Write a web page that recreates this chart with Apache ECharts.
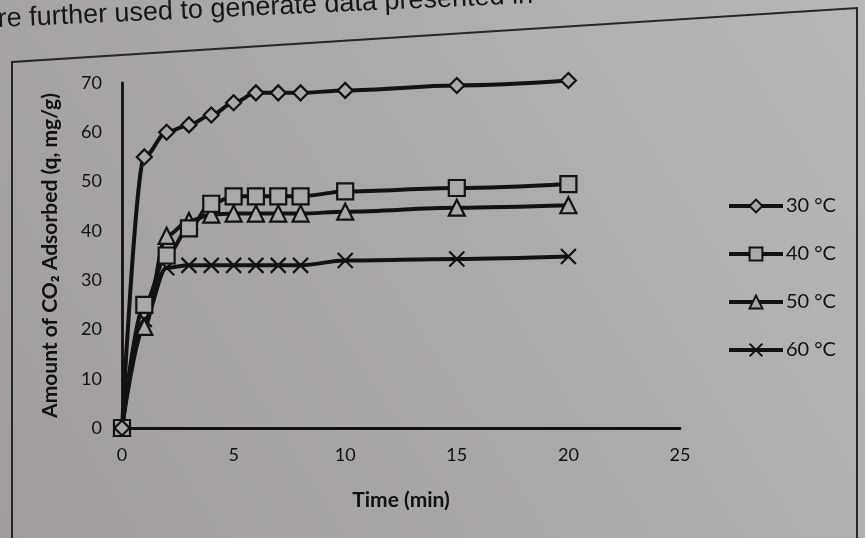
<!DOCTYPE html>
<html>
<head>
<meta charset="utf-8">
<script src="https://cdn.jsdelivr.net/npm/echarts@6/dist/echarts.min.js"></script>
<style>
html,body{margin:0;padding:0;}
#chart{width:865px;height:538px;}
</style>
</head>
<body>
<div id="chart"></div>
<script>
// ---- data ----
var times = [0, 1, 2, 3, 4, 5, 6, 7, 8, 10, 15, 20];
var seriesNames = ['30 °C', '40 °C', '50 °C', '60 °C'];
var q30 = [0, 55, 60, 61.5, 63.5, 66, 68, 68, 68, 68.5, 69.5, 70.5];
var q40 = [0, 25, 35, 40.5, 45.5, 47, 47, 47, 47, 48, 48.7, 49.5];
var q50 = [0, 20.5, 39, 42, 43.3, 43.5, 43.5, 43.5, 43.5, 43.9, 44.7, 45.2];
var q60 = [0, 22, 32.5, 33, 33, 33, 33, 33, 33, 34, 34.3, 34.8];
var xTicks = [0, 5, 10, 15, 20, 25];
var yTicks = [0, 10, 20, 30, 40, 50, 60, 70];
var xTitle = 'Time (min)';
var yTitle = 'Amount of CO\u2082 Adsorbed (q, mg/g)';
var pageText = 're further used to generate data presented in';

function pairs(ys) { return times.map(function (t, i) { return [t, ys[i]]; }); }

var ink = '#121212';
var paper = '#aba8a9';
var xSymbol = 'path://M0,0L10,10M10,0L0,10';
var symbols = ['diamond', 'rect', 'triangle', xSymbol];
var sizes = [15, 16, 16, 15];
var values = [q30, q40, q50, q60];

var chart = echarts.init(document.getElementById('chart'));
var series = seriesNames.map(function (n, i) {
  return {
    name: n,
    type: 'line',
    data: pairs(values[i]),
    smooth: 0.35,
    smoothMonotone: 'x',
    clip: false,
    symbol: symbols[i],
    symbolSize: sizes[i],
    showAllSymbol: true,
    lineStyle: { color: ink, width: 4 },
    itemStyle: { color: paper, borderColor: ink, borderWidth: 2.2 },
    emphasis: { disabled: true },
    z: 10 - i
  };
});

chart.setOption({
  animation: false,
  backgroundColor: {
    type: 'linear', x: 1, y: 0, x2: 0, y2: 1,
    colorStops: [{ offset: 0, color: '#b9b7ba' }, { offset: 0.5, color: '#aba8a9' }, { offset: 1, color: '#a19d9e' }]
  },
  grid: { left: 122, top: 83, right: 185, bottom: 110 },
  xAxis: {
    type: 'value', min: 0, max: 25, interval: 5,
    axisLine: { show: true, onZero: false, lineStyle: { color: ink, width: 2.8 } },
    axisTick: { show: false },
    splitLine: { show: false },
    axisLabel: {
      color: '#111', fontSize: 18, fontFamily: 'Lato', margin: 18,
      customValues: xTicks
    },
    name: xTitle, nameLocation: 'middle', nameGap: 62,
    nameTextStyle: { color: '#111', fontSize: 21, fontWeight: 'bold', fontFamily: 'Lato' }
  },
  yAxis: {
    type: 'value', min: 0, max: 70, interval: 10,
    axisLine: { show: true, lineStyle: { color: ink, width: 2.8 } },
    axisTick: { show: false },
    splitLine: { show: false },
    axisLabel: { color: '#111', fontSize: 18, fontFamily: 'Lato', margin: 20 },
    name: yTitle, nameLocation: 'middle', nameGap: 61,
    nameTextStyle: { color: '#111', fontSize: 21, fontWeight: 'bold', fontFamily: 'Lato' }
  },
  legend: {
    orient: 'vertical', left: 722, top: 191, itemGap: 28,
    itemWidth: 54, itemHeight: 16,
    lineStyle: { width: 4, color: ink },
    textStyle: { color: '#111', fontSize: 20, fontFamily: 'Lato', padding: [0, 0, 0, -2] },
    data: seriesNames
  },
  graphic: [
    {
      type: 'polyline', silent: true,
      shape: { points: [[12, 545], [12, 62], [857, 8], [857, 545]] },
      style: { stroke: '#262626', lineWidth: 2, fill: null }
    },
    {
      type: 'text', silent: true, x: -3, y: 6, rotation: 0.045,
      style: { text: pageText, fill: '#161616', font: '27px "Liberation Sans", Arial' }
    }
  ],
  series: series
});
</script>
</body>
</html>
